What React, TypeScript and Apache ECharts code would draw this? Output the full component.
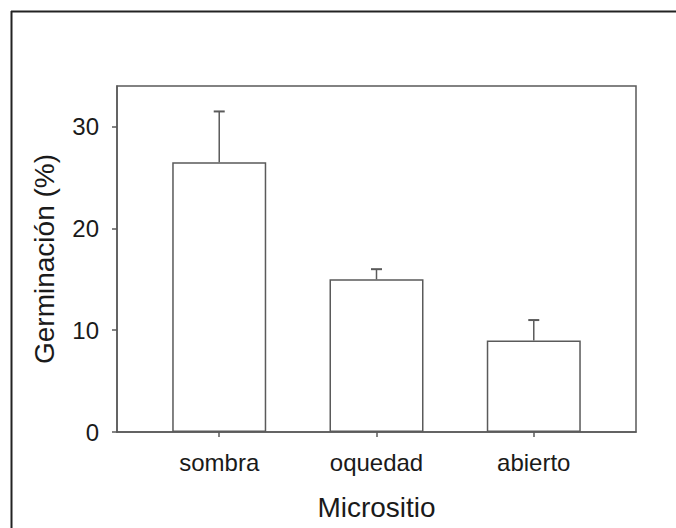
import React, { useEffect, useRef } from "react";
import * as echarts from "echarts";

// Germination by microsite: mean and upper error
const categories: string[] = ["sombra", "oquedad", "abierto"];
const means: number[] = [26.5, 15, 9];
const upperErrors: number[] = [31.5, 16, 11];
const yTicks: number[] = [0, 10, 20, 30];

const LINE = "#5a5a5a";
const TEXT = "#1a1a1a";
const FONT = "'Liberation Sans', Arial, sans-serif";

export default function App() {
  const ref = useRef<HTMLDivElement>(null);

  useEffect(() => {
    if (!ref.current) return;
    const chart = echarts.init(ref.current, null, { renderer: "svg" });
    const positions = categories.map((_, i) => i + 1);

    chart.setOption({
      animation: false,
      backgroundColor: "#ffffff",
      textStyle: { fontFamily: FONT },
      grid: {
        left: 117,
        top: 86,
        right: 40,
        bottom: 96,
        show: true,
        borderColor: LINE,
        borderWidth: 1.5,
        backgroundColor: "transparent",
      },
      xAxis: {
        type: "value",
        min: 0.35,
        max: 3.65,
        name: "Micrositio",
        nameLocation: "middle",
        nameGap: 61,
        nameTextStyle: { fontSize: 28, color: TEXT, fontFamily: FONT },
        splitLine: { show: false },
        axisLine: { show: true, lineStyle: { color: LINE, width: 1.5 } },
        axisTick: {
          show: true,
          customValues: positions,
          length: 5,
          lineStyle: { color: LINE, width: 1.5 },
        },
        axisLabel: {
          customValues: positions,
          formatter: (v: number) => categories[Math.round(v) - 1] ?? "",
          fontSize: 24,
          color: TEXT,
          fontFamily: FONT,
          margin: 18,
        },
      },
      yAxis: {
        type: "value",
        min: 0,
        max: 34,
        name: "Germinación (%)",
        nameLocation: "middle",
        nameGap: 59,
        nameTextStyle: { fontSize: 28, color: TEXT, fontFamily: FONT },
        splitLine: { show: false },
        axisLine: { show: true, lineStyle: { color: LINE, width: 1.5 } },
        axisTick: {
          show: true,
          customValues: yTicks,
          length: 5,
          lineStyle: { color: LINE, width: 1.5 },
        },
        axisLabel: {
          customValues: yTicks,
          fontSize: 24,
          color: TEXT,
          fontFamily: FONT,
          margin: 18,
        },
      },
      series: [
        {
          type: "bar",
          barWidth: 94,
          data: positions.map((p, i) => [p, means[i]]),
          itemStyle: { color: "#ffffff", borderColor: LINE, borderWidth: 1.5 },
          z: 2,
        },
        {
          type: "custom",
          data: positions.map((p, i) => [p, means[i], upperErrors[i]]),
          z: 3,
          renderItem: (_params: any, api: any) => {
            const base = api.coord([api.value(0), api.value(1)]);
            const top = api.coord([api.value(0), api.value(2)]);
            const half = 5.5;
            const style = { stroke: LINE, lineWidth: 1.5 };
            return {
              type: "group",
              children: [
                {
                  type: "line",
                  shape: { x1: base[0], y1: base[1], x2: top[0], y2: top[1] },
                  style,
                },
                {
                  type: "line",
                  shape: { x1: top[0] - half, y1: top[1], x2: top[0] + half, y2: top[1] },
                  style: { stroke: LINE, lineWidth: 2 },
                },
              ],
            };
          },
        },
      ],
      graphic: [
        {
          type: "line",
          shape: { x1: 11, y1: 11.5, x2: 676, y2: 11.5 },
          style: { stroke: "#222222", lineWidth: 2 },
        },
        {
          type: "line",
          shape: { x1: 11.5, y1: 11, x2: 11.5, y2: 528 },
          style: { stroke: "#222222", lineWidth: 2 },
        },
      ],
    });

    return () => chart.dispose();
  }, []);

  return (
    <div
      ref={ref}
      style={{ position: "fixed", left: 0, top: 0, width: 676, height: 528, background: "#fff" }}
    />
  );
}
